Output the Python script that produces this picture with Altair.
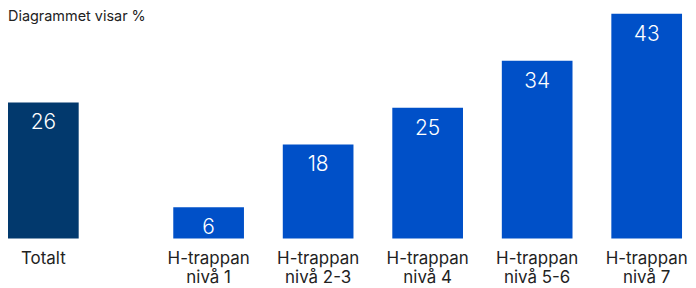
import altair as alt
import pandas as pd

title_text = "Diagrammet visar %"
total_label = ["Totalt"]
total_value = [26]
group_labels = ["H-trappan|nivå 1", "H-trappan|nivå 2-3", "H-trappan|nivå 4",
                "H-trappan|nivå 5-6", "H-trappan|nivå 7"]
group_values = [6, 18, 25, 34, 43]

df_total = pd.DataFrame({"cat": total_label, "val": total_value})
df_groups = pd.DataFrame({"cat": group_labels, "val": group_values})

FONT = "Inter"
ydom = [0, 43.4]
H = 228

def panel(df, color, width, pad_inner, pad_outer):
    x = alt.X("cat:N", sort=None, title=None,
              scale=alt.Scale(paddingInner=pad_inner, paddingOuter=pad_outer),
              axis=alt.Axis(labelExpr="split(datum.label, '|')", labelAngle=0,
                            ticks=False, domain=False, labelFontSize=17,
                            labelFont=FONT, labelColor="#222222",
                            labelPadding=12, labelLineHeight=19,
                            labelBaseline="top"))
    y = alt.Y("val:Q", scale=alt.Scale(domain=ydom, nice=False, zero=True),
              axis=None)
    bars = alt.Chart(df).mark_bar(color=color).encode(x=x, y=y)
    labels = alt.Chart(df).mark_text(color="white", baseline="top", dy=10,
                                     fontSize=21, font=FONT, fontWeight=300).encode(
        x=alt.X("cat:N", sort=None), y=y, text="val:Q")
    return alt.layer(bars, labels).properties(width=width, height=H)

p1 = panel(df_total, "#02396D", 71, 0, 0)
title_mark = alt.Chart(pd.DataFrame({"t": [title_text]})).mark_text(
    align="left", baseline="top", fontSize=14.5, font=FONT, color="#222222"
).encode(x=alt.value(0), y=alt.value(-2), text="t:N")
p1 = alt.layer(p1, title_mark)

p2 = panel(df_groups, "#0050C8", 511, 39 / 110, 0)

chart = alt.hconcat(p1, p2, spacing=95, bounds="flush").properties(
    padding=0
).configure_view(stroke=None).configure_concat(spacing=95)

chart.save("out.html", embed_options={"renderer": "svg", "actions": False})
